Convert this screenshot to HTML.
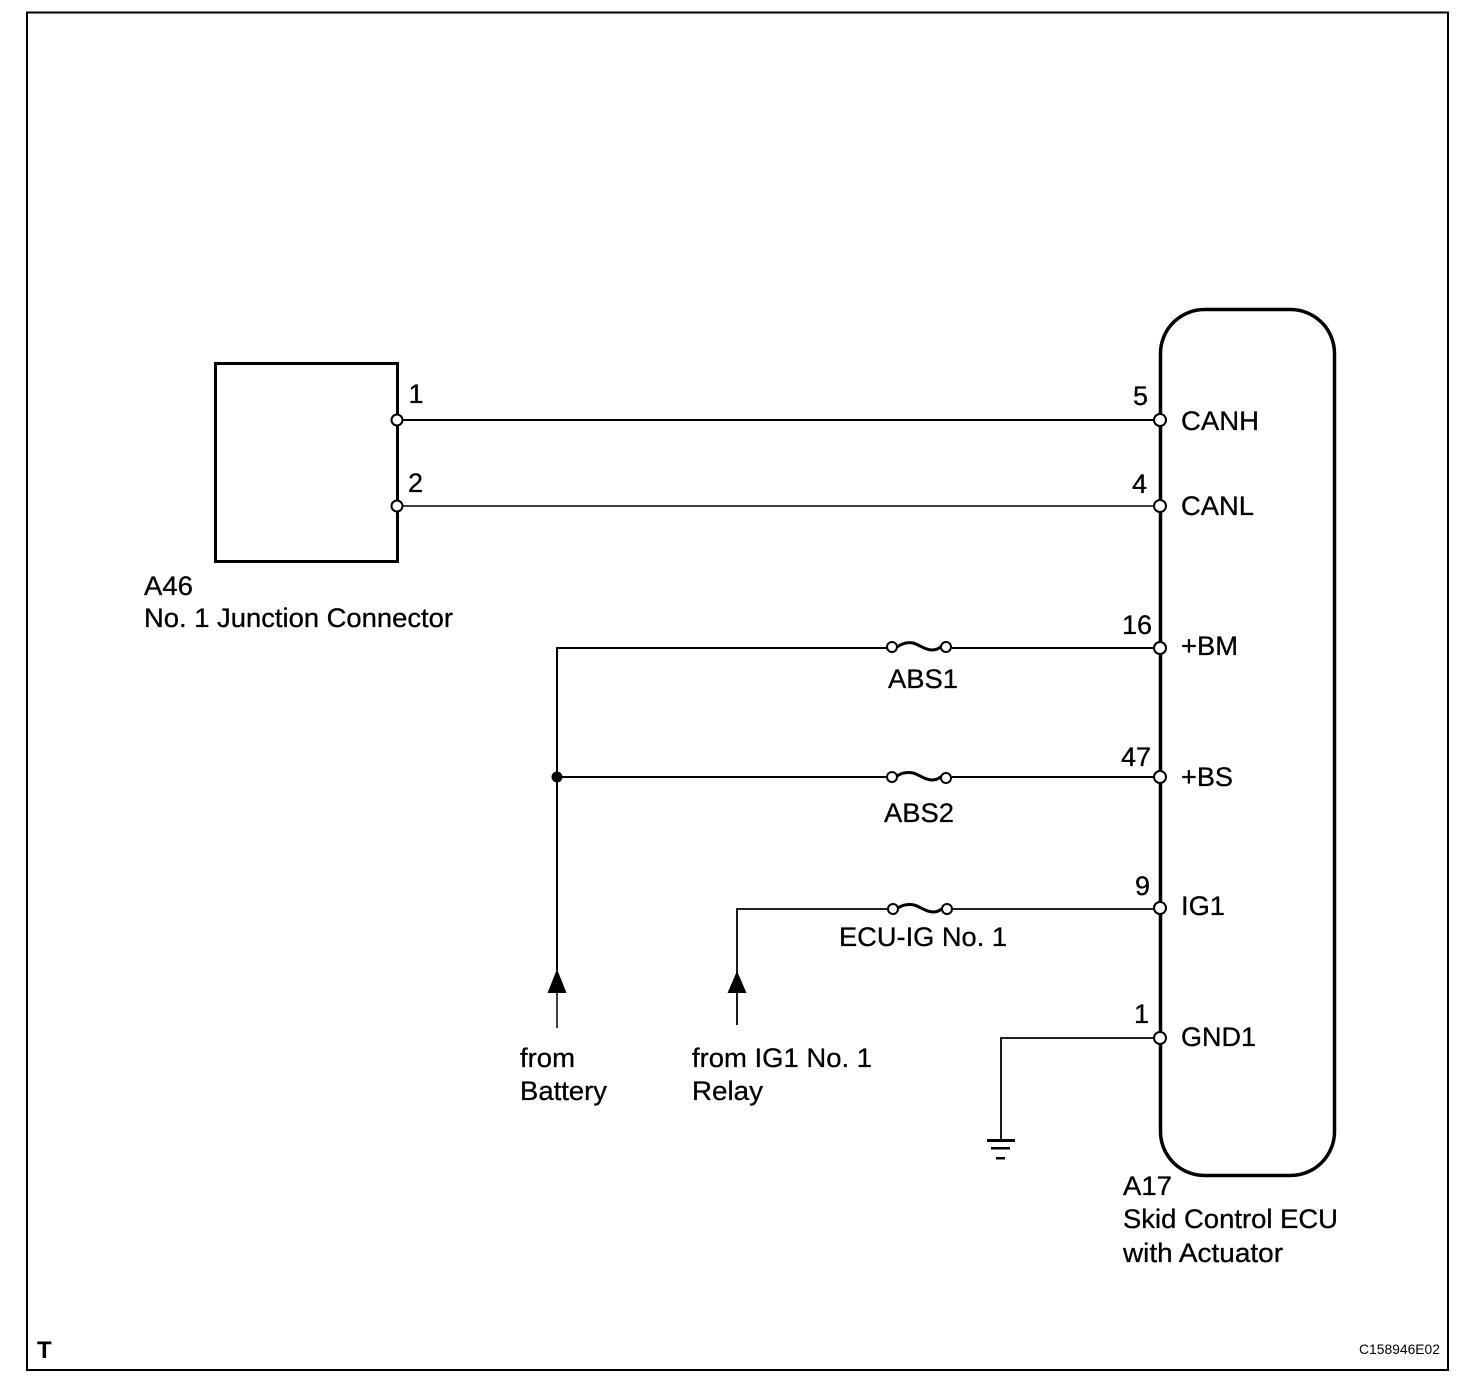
<!DOCTYPE html>
<html><head><meta charset="utf-8"><style>
html,body{margin:0;padding:0;background:#fff;width:1472px;height:1388px;overflow:hidden}
svg{display:block}
text{font-family:"Liberation Sans",Arial,sans-serif;font-size:27px;fill:#000;stroke:#000;stroke-width:.3px}
.w{fill:none;stroke:#000;stroke-width:2}
.c{fill:#fff;stroke:#000;stroke-width:2}
.f{fill:none;stroke:#000;stroke-width:3}
</style></head><body>
<svg width="1472" height="1388" viewBox="0 0 1472 1388" xmlns="http://www.w3.org/2000/svg">
<rect x="27" y="12.500" width="1421" height="1357.500" fill="none" stroke="#000" stroke-width="2"/>
<rect x="215.500" y="363.500" width="182" height="198" fill="none" stroke="#000" stroke-width="3"/>
<rect x="1160.500" y="309.500" width="174" height="866" rx="44" ry="44" fill="none" stroke="#000" stroke-width="3.500"/>

<line class="w" x1="397" y1="420" x2="1160" y2="420"/>
<line x1="397" y1="506" x2="1160" y2="506" stroke="#000" stroke-width="1.500"/>
<path d="M887 648H557V970" class="w"/>
<line x1="557" y1="970" x2="557" y2="1028" stroke="#000" stroke-width="1.500"/>
<path class="w" d="M557 777H887"/>
<path d="M888 909H737V1025" fill="none" stroke="#000" stroke-width="1.800"/>
<path d="M1160 1038H1001V1140" fill="none" stroke="#000" stroke-width="1.800"/>
<path class="w" d="M952 648H1160M952 777H1160"/>
<path d="M952 909H1160" fill="none" stroke="#000" stroke-width="1.800"/>

<path class="f" d="M897 647C903 643 908 642 913 643C920 645 925 650 932 650C937 650 939 648 942 646"/>
<circle class="c" cx="892" cy="647" r="5"/><circle class="c" cx="946" cy="647" r="5"/>
<path class="f" d="M897 776C903 772 908 772 913 773C920 775 925 780 932 780C937 780 939 778 942 776"/>
<circle class="c" cx="892" cy="777" r="5"/><circle class="c" cx="946" cy="778" r="5"/>
<path class="f" d="M898 908C904 904 909 904 914 905C921 907 926 912 933 912C938 912 940 910 943 908"/>
<circle class="c" cx="893" cy="909" r="5"/><circle class="c" cx="947" cy="909" r="5"/>

<circle cx="557" cy="777" r="5.500" fill="#000"/>
<polygon points="557,969 566.500,993 547.500,993" fill="#000"/>
<polygon points="737,971 746.500,993 727.500,993" fill="#000"/>

<rect x="987" y="1139" width="28" height="3" fill="#000"/>
<rect x="991" y="1147" width="19" height="2.500" fill="#000"/>
<rect x="996" y="1157" width="9" height="2.500" fill="#000"/>

<circle class="c" cx="397" cy="420" r="5.500"/>
<circle class="c" cx="397" cy="506" r="5.500"/>
<circle class="c" cx="1160" cy="420" r="6"/>
<circle class="c" cx="1160" cy="506" r="6"/>
<circle class="c" cx="1160" cy="648" r="6"/>
<circle class="c" cx="1160" cy="777" r="6"/>
<circle class="c" cx="1160" cy="908" r="6"/>
<circle class="c" cx="1160" cy="1038" r="6"/>

<text x="408.500" y="403">1</text>
<text x="408" y="492">2</text>
<text x="1133" y="405">5</text>
<text x="1132" y="493">4</text>
<text x="1122" y="634">16</text>
<text x="1121" y="766">47</text>
<text x="1135" y="895">9</text>
<text x="1134" y="1023">1</text>

<text x="1181" y="430" textLength="78" lengthAdjust="spacingAndGlyphs">CANH</text>
<text x="1181" y="515" textLength="73" lengthAdjust="spacingAndGlyphs">CANL</text>
<text x="1181" y="655" textLength="57" lengthAdjust="spacingAndGlyphs">+BM</text>
<text x="1181" y="786" textLength="52" lengthAdjust="spacingAndGlyphs">+BS</text>
<text x="1181" y="915" textLength="44" lengthAdjust="spacingAndGlyphs">IG1</text>
<text x="1181" y="1046" textLength="75" lengthAdjust="spacingAndGlyphs">GND1</text>

<text x="888" y="688" textLength="70" lengthAdjust="spacingAndGlyphs">ABS1</text>
<text x="884" y="822" textLength="70" lengthAdjust="spacingAndGlyphs">ABS2</text>
<text x="839" y="946" textLength="168" lengthAdjust="spacingAndGlyphs">ECU-IG No. 1</text>

<text x="144" y="595" textLength="49" lengthAdjust="spacingAndGlyphs">A46</text>
<text x="144" y="627" textLength="309" lengthAdjust="spacingAndGlyphs">No. 1 Junction Connector</text>

<text x="520" y="1067" textLength="55" lengthAdjust="spacingAndGlyphs">from</text>
<text x="520" y="1100" textLength="87" lengthAdjust="spacingAndGlyphs">Battery</text>
<text x="692" y="1067" textLength="180" lengthAdjust="spacingAndGlyphs">from IG1 No. 1</text>
<text x="692" y="1100" textLength="71" lengthAdjust="spacingAndGlyphs">Relay</text>

<text x="1123" y="1195" textLength="49" lengthAdjust="spacingAndGlyphs">A17</text>
<text x="1123" y="1228" textLength="215" lengthAdjust="spacingAndGlyphs">Skid Control ECU</text>
<text x="1123" y="1262" textLength="160" lengthAdjust="spacingAndGlyphs">with Actuator</text>

<text x="37" y="1358" style="font-size:24px;font-weight:bold;stroke-width:0">T</text>
<text x="1359" y="1354" style="font-size:14px;stroke-width:0" textLength="81" lengthAdjust="spacingAndGlyphs">C158946E02</text>
</svg>
</body></html>
